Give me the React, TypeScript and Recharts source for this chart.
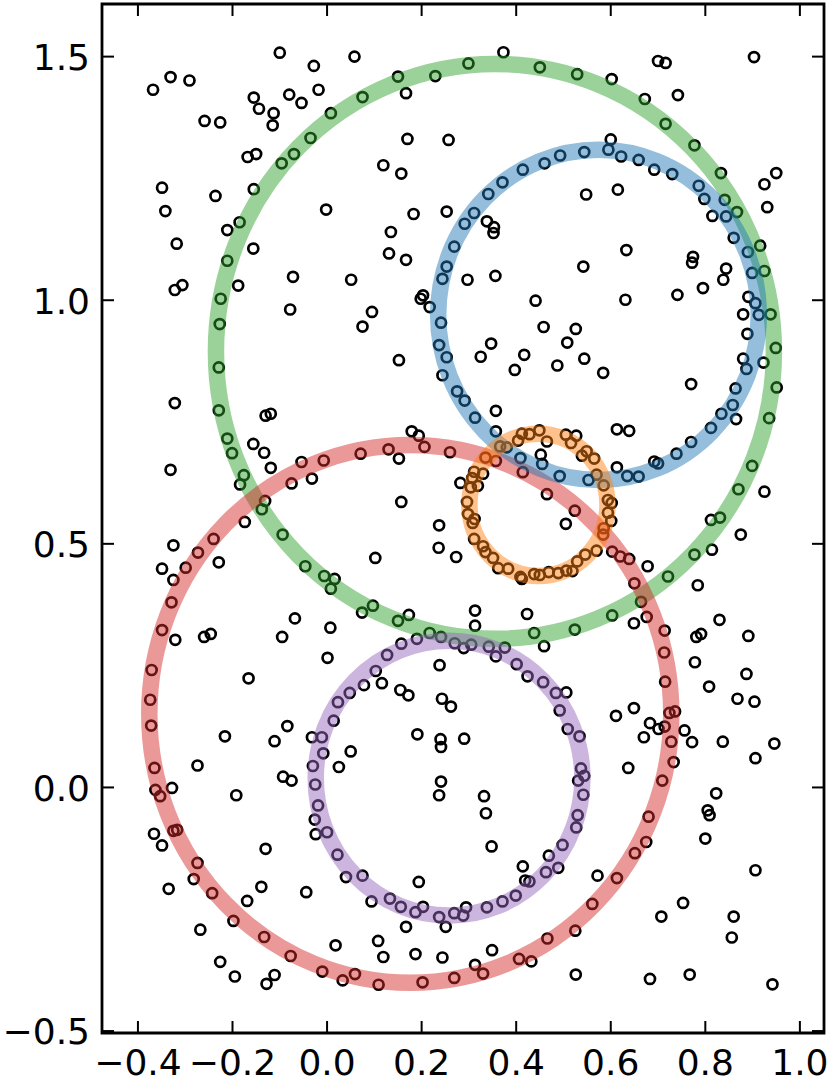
import React from "react";
import { ComposedChart, Scatter, XAxis, YAxis, ReferenceArea } from "recharts";

// ---- axis ranges / ticks ----
const XMIN = -0.476;
const XMAX = 1.051;
const YMIN = -0.504;
const YMAX = 1.608;
const xTicks = [-0.4, -0.2, 0.0, 0.2, 0.4, 0.6, 0.8, 1.0];
const yTicks = [-0.5, 0.0, 0.5, 1.0, 1.5];

// ---- fitted circles (center x, center y, radius) ----
const circleNames = ["green", "red", "blue", "purple", "orange"];
const circleCX = [0.355, 0.176, 0.574, 0.258, 0.447];
const circleCY = [0.895, 0.151, 0.970, 0.019, 0.580];
const circleR = [0.590, 0.552, 0.339, 0.282, 0.146];
const circleColors = ["#2ca02c", "#d62728", "#1f77b4", "#9467bd", "#ff7f0e"];

// ---- sample points ----
const greenPts: [number, number][] = [
  [0.008, 1.384], [-0.035, 1.333], [-0.07, 1.3], [-0.096, 1.281], [-0.155, 1.228], [-0.185, 1.16], [-0.211, 1.081],
  [0.15, 1.459], [0.229, 1.46], [0.299, 1.486], [0.45, 1.478], [0.529, 1.464], [0.075, 1.417],
  [0.672, 1.413], [0.716, 1.362], [0.777, 1.318], [0.833, 1.261], [0.841, 1.206], [0.867, 1.181], [0.916, 1.112],
  [-0.225, 1.003], [-0.227, 0.951], [-0.229, 0.862], [-0.229, 0.774], [-0.211, 0.716], [-0.201, 0.686], [-0.176, 0.641], [-0.184, 0.622], [-0.138, 0.571], [-0.094, 0.519],
  [0.925, 1.06], [0.938, 0.971], [0.949, 0.902], [0.951, 0.821], [0.935, 0.758], [0.899, 0.66], [0.87, 0.612], [0.831, 0.554],
  [-0.046, 0.454], [-0.006, 0.434], [0.008, 0.408],
  [0.097, 0.373], [0.074, 0.359], [0.15, 0.342], [0.438, 0.317], [0.524, 0.324], [0.217, 0.317],
  [0.777, 0.478], [0.721, 0.433], [0.603, 0.353],
];
const bluePts: [number, number][] = [
  [0.544, 1.304], [0.493, 1.297], [0.46, 1.281], [0.414, 1.268], [0.371, 1.242], [0.341, 1.218], [0.311, 1.179], [0.291, 1.157], [0.269, 1.11], [0.253, 1.069],
  [0.595, 1.309], [0.622, 1.295], [0.659, 1.288], [0.73, 1.259], [0.786, 1.235], [0.798, 1.208], [0.844, 1.172], [0.86, 1.128], [0.89, 1.099],
  [0.244, 1.044], [0.217, 0.986], [0.241, 0.954], [0.237, 0.908], [0.253, 0.883], [0.244, 0.846], [0.275, 0.813], [0.291, 0.794], [0.313, 0.759], [0.357, 0.731],
  [0.409, 0.676], [0.455, 0.664], [0.492, 0.639], [0.553, 0.631],
  [0.899, 1.056], [0.891, 1.007], [0.906, 0.994], [0.913, 0.97], [0.887, 0.859], [0.864, 0.819], [0.858, 0.785], [0.834, 0.767], [0.812, 0.738], [0.77, 0.709], [0.739, 0.685], [0.692, 0.669], [0.7, 0.665], [0.635, 0.639], [0.659, 0.638],
];
const orangePts: [number, number][] = [
  [0.412, 0.726], [0.428, 0.725], [0.449, 0.733], [0.404, 0.712], [0.505, 0.724], [0.527, 0.722], [0.516, 0.707], [0.539, 0.681], [0.549, 0.69], [0.366, 0.7], [0.38, 0.698], [0.335, 0.677],
  [0.311, 0.648], [0.33, 0.644], [0.319, 0.619], [0.304, 0.616], [0.296, 0.586], [0.298, 0.561], [0.308, 0.543],
  [0.565, 0.675], [0.57, 0.642], [0.585, 0.62], [0.594, 0.59], [0.602, 0.584], [0.594, 0.564], [0.601, 0.547],
  [0.311, 0.51], [0.33, 0.495], [0.335, 0.483], [0.351, 0.471], [0.362, 0.45], [0.383, 0.449], [0.409, 0.432], [0.412, 0.428], [0.438, 0.438], [0.45, 0.436], [0.469, 0.442], [0.489, 0.44], [0.506, 0.445], [0.519, 0.444], [0.529, 0.464], [0.546, 0.478],
  [0.584, 0.519], [0.57, 0.486],
];
const redPts: [number, number][] = [
  [-0.054, 0.668], [-0.007, 0.671], [-0.075, 0.624], [-0.131, 0.588],
  [0.206, 0.699], [0.13, 0.694], [0.071, 0.685], [0.26, 0.688], [0.357, 0.67], [0.414, 0.647], [0.524, 0.568], [0.585, 0.532],
  [-0.24, 0.51], [-0.273, 0.482], [-0.299, 0.451], [-0.329, 0.38], [-0.349, 0.323], [-0.371, 0.241], [-0.374, 0.18], [-0.372, 0.127], [-0.365, 0.04], [-0.363, -0.005], [-0.353, -0.018],
  [0.603, 0.484], [0.62, 0.474], [0.639, 0.469], [0.65, 0.419], [0.664, 0.381], [0.676, 0.35], [0.714, 0.322], [0.713, 0.277], [0.715, 0.217], [0.724, 0.153], [0.736, 0.156], [0.714, 0.125], [0.728, 0.094], [0.733, 0.052], [0.709, 0.014],
  [-0.325, -0.089], [-0.317, -0.087], [-0.274, -0.155], [-0.282, -0.188], [-0.243, -0.217], [-0.198, -0.274], [-0.133, -0.307], [-0.077, -0.346], [-0.01, -0.378], [0.033, -0.396],
  [0.33, -0.382], [0.406, -0.352], [0.466, -0.31], [0.059, -0.383], [0.109, -0.405], [0.202, -0.4], [0.269, -0.391],
  [0.68, -0.06], [0.651, -0.135], [0.613, -0.186], [0.561, -0.239],
];
const purplePts: [number, number][] = [
  [0.023, 0.175], [0.014, 0.137], [-0.011, 0.103], [-0.008, 0.07], [-0.03, 0.044], [-0.025, 0.006],
  [0.241, 0.309], [0.19, 0.305], [0.157, 0.295], [0.27, 0.296], [0.305, 0.293], [0.342, 0.289], [0.376, 0.287], [0.357, 0.269], [0.127, 0.272], [0.401, 0.253], [0.103, 0.239], [0.457, 0.216], [0.048, 0.194], [0.484, 0.194], [0.492, 0.158], [0.509, 0.12], [0.534, 0.105], [0.537, 0.039], [0.544, 0.024], [0.531, 0.014], [0.542, -0.015],
  [-0.019, -0.037], [-0.026, -0.066], [0.0, -0.092], [0.022, -0.138],
  [0.53, -0.057], [0.527, -0.082], [0.498, -0.118], [0.469, -0.14], [0.463, -0.174], [0.419, -0.191], [0.04, -0.184], [0.075, -0.181], [0.133, -0.228], [0.156, -0.245], [0.187, -0.256], [0.203, -0.245], [0.237, -0.266], [0.269, -0.258], [0.288, -0.263], [0.294, -0.246], [0.338, -0.246], [0.371, -0.234], [0.399, -0.222],
];
const otherPts: [number, number][] = [
  [-0.1, 1.508], [-0.028, 1.481], [-0.331, 1.458], [-0.291, 1.451], [-0.368, 1.432], [-0.018, 1.432], [-0.155, 1.416], [-0.08, 1.422], [-0.054, 1.405], [-0.144, 1.393], [-0.113, 1.384], [-0.259, 1.368], [-0.226, 1.365], [-0.115, 1.359], [-0.15, 1.3], [-0.168, 1.294], [-0.349, 1.231], [-0.236, 1.214], [-0.342, 1.183], [-0.002, 1.186], [-0.211, 1.144], [-0.318, 1.116], [-0.156, 1.106],
  [0.058, 1.5], [0.373, 1.509], [0.167, 1.425], [0.17, 1.331], [0.257, 1.329], [0.119, 1.277], [0.157, 1.26], [0.548, 1.217], [0.183, 1.177], [0.253, 1.182], [0.338, 1.162], [0.353, 1.15], [0.352, 1.138], [0.135, 1.14], [0.131, 1.096], [0.167, 1.083], [0.542, 1.069],
  [0.7, 1.491], [0.716, 1.487], [0.903, 1.499], [0.602, 1.454], [0.742, 1.421], [0.6, 1.33], [0.692, 1.268], [0.615, 1.227], [0.95, 1.261], [0.925, 1.238], [0.815, 1.173], [0.931, 1.191], [0.633, 1.103], [0.774, 1.089], [0.772, 1.077], [0.844, 1.065],
  [-0.322, 1.021], [-0.306, 1.031], [-0.188, 1.03], [-0.072, 1.048], [-0.078, 0.981], [-0.322, 0.789], [-0.13, 0.763], [-0.119, 0.767], [-0.156, 0.705], [-0.133, 0.687], [-0.331, 0.652], [-0.119, 0.656], [-0.032, 0.634], [-0.174, 0.545],
  [0.051, 1.042], [0.297, 1.042], [0.356, 1.05], [0.095, 0.976], [0.075, 0.946], [0.198, 1.003], [0.203, 1.01], [0.441, 0.999], [0.458, 0.945], [0.526, 0.941], [0.508, 0.913], [0.347, 0.911], [0.325, 0.884], [0.417, 0.888], [0.152, 0.877], [0.397, 0.857], [0.487, 0.866], [0.544, 0.88], [0.357, 0.773], [0.179, 0.731], [0.194, 0.722], [0.152, 0.675], [0.465, 0.71], [0.452, 0.683], [0.307, 0.635], [0.282, 0.625], [0.465, 0.602], [0.312, 0.551], [0.505, 0.541], [0.157, 0.586], [0.237, 0.538],
  [0.838, 1.042], [0.631, 1.001], [0.741, 1.011], [0.795, 1.025], [0.88, 0.971], [0.889, 0.931], [0.584, 0.851], [0.88, 0.88], [0.923, 0.872], [0.77, 0.828], [0.865, 0.756], [0.613, 0.735], [0.639, 0.732], [0.613, 0.657], [0.925, 0.607], [0.812, 0.549],
  [-0.325, 0.497], [-0.229, 0.462], [-0.349, 0.449], [-0.325, 0.426], [0.016, 0.428], [-0.068, 0.347], [0.007, 0.328], [-0.321, 0.303], [-0.26, 0.309], [-0.246, 0.315], [-0.095, 0.309], [0.001, 0.266], [-0.166, 0.224], [-0.084, 0.126], [-0.216, 0.105], [-0.111, 0.095], [-0.032, 0.103], [-0.274, 0.045], [0.025, 0.042], [-0.093, 0.022], [-0.075, 0.014], [-0.328, -0.001], [-0.192, -0.016],
  [0.236, 0.492], [0.102, 0.471], [0.273, 0.473], [0.173, 0.354], [0.313, 0.363], [0.313, 0.332], [0.423, 0.356], [0.459, 0.29], [0.289, 0.286], [0.238, 0.251], [0.424, 0.228], [0.116, 0.214], [0.078, 0.21], [0.155, 0.2], [0.172, 0.189], [0.506, 0.195], [0.243, 0.182], [0.262, 0.166], [0.191, 0.109], [0.24, 0.099], [0.241, 0.083], [0.29, 0.1], [0.05, 0.074], [0.241, 0.012], [0.237, -0.016], [0.332, -0.018],
  [0.875, 0.519], [0.678, 0.454], [0.814, 0.488], [0.784, 0.415], [0.649, 0.337], [0.83, 0.344], [0.781, 0.309], [0.791, 0.315], [0.891, 0.311], [0.778, 0.257], [0.887, 0.233], [0.808, 0.207], [0.868, 0.182], [0.904, 0.176], [0.649, 0.163], [0.611, 0.147], [0.683, 0.132], [0.701, 0.12], [0.756, 0.117], [0.67, 0.103], [0.772, 0.093], [0.837, 0.094], [0.946, 0.09], [0.906, 0.06], [0.637, 0.04], [0.823, -0.012],
  [-0.366, -0.095], [-0.349, -0.119], [-0.13, -0.126], [-0.335, -0.208], [-0.139, -0.204], [-0.169, -0.233], [-0.044, -0.215], [-0.268, -0.292], [0.018, -0.324], [-0.226, -0.358], [-0.195, -0.388], [-0.128, -0.403], [-0.111, -0.385], [-0.024, -0.096],
  [0.336, -0.053], [0.348, -0.121], [0.414, -0.162], [0.489, -0.165], [0.428, -0.193], [0.194, -0.194], [0.094, -0.234], [0.251, -0.286], [0.167, -0.286], [0.108, -0.315], [0.119, -0.348], [0.187, -0.342], [0.244, -0.349], [0.349, -0.334], [0.313, -0.364], [0.432, -0.357], [0.525, -0.294], [0.526, -0.384],
  [0.805, -0.047], [0.809, -0.057], [0.675, -0.112], [0.8, -0.105], [0.572, -0.181], [0.906, -0.17], [0.753, -0.237], [0.707, -0.265], [0.86, -0.265], [0.856, -0.308], [0.683, -0.393], [0.767, -0.384], [0.942, -0.404],
];

// ---- layout ----
const W = 830;
const H = 1079;
const MARGIN = { top: 4, right: 6, left: 0, bottom: 0 };
const YAXIS_W = 102;
const XAXIS_H = 46;
const PLOT_LEFT = MARGIN.left + YAXIS_W;
const PLOT_RIGHT = W - MARGIN.right;
const PLOT_TOP = MARGIN.top;
const PLOT_BOTTOM = H - MARGIN.bottom - XAXIS_H;
const PX_PER_X = (PLOT_RIGHT - PLOT_LEFT) / (XMAX - XMIN);
const PX_PER_Y = (PLOT_BOTTOM - PLOT_TOP) / (YMAX - YMIN);
const TICK_LEN = 12;
const FONT = "DejaVu Sans";

const fmt = (v: number) => (v < 0 ? "\u2212" + Math.abs(v).toFixed(1) : v.toFixed(1));

const allPts = [...otherPts, ...greenPts, ...bluePts, ...orangePts, ...redPts, ...purplePts].map(([x, y]) => ({ x, y }));

const XTick = (props: any) => {
  const { x, y, payload } = props;
  return (
    <g>
      <line x1={x} y1={y} x2={x} y2={y - TICK_LEN} stroke="#000" strokeWidth={2} />
      <line x1={x} y1={PLOT_TOP} x2={x} y2={PLOT_TOP + TICK_LEN} stroke="#000" strokeWidth={2} />
      <text x={x} y={y + 42} textAnchor="middle" fontFamily={FONT} fontSize={36} fill="#000">
        {fmt(payload.value)}
      </text>
    </g>
  );
};

const YTick = (props: any) => {
  const { x, y, payload } = props;
  return (
    <g>
      <line x1={x} y1={y} x2={x + TICK_LEN} y2={y} stroke="#000" strokeWidth={2} />
      <line x1={PLOT_RIGHT} y1={y} x2={PLOT_RIGHT - TICK_LEN} y2={y} stroke="#000" strokeWidth={2} />
      <text x={x - 12} y={y + 13.3} textAnchor="end" fontFamily={FONT} fontSize={36} fill="#000">
        {fmt(payload.value)}
      </text>
    </g>
  );
};

const PointShape = (props: any) => {
  const { cx, cy } = props;
  if (cx == null || cy == null) return null;
  return <circle cx={cx} cy={cy} r={5} fill="none" stroke="#000" strokeWidth={2.7} />;
};

const makeRing = (color: string) => (props: any) => {
  const { cx, cy, payload } = props;
  if (cx == null || cy == null) return null;
  return (
    <ellipse
      cx={cx}
      cy={cy}
      rx={payload.r * PX_PER_X}
      ry={payload.r * PX_PER_Y}
      fill="none"
      stroke={color}
      strokeOpacity={0.48}
      strokeWidth={16.5}
    />
  );
};

export default function App() {
  return (
    <div style={{ position: "absolute", left: 0, top: 0, width: W, height: H, background: "#fff" }}>
      <ComposedChart width={W} height={H} margin={MARGIN}>
        <XAxis
          type="number"
          dataKey="x"
          domain={[XMIN, XMAX]}
          ticks={xTicks}
          interval={0}
          allowDataOverflow
          height={XAXIS_H}
          axisLine={false}
          tickLine={false}
          tickSize={0}
          tickMargin={0}
          tick={<XTick />}
        />
        <YAxis
          type="number"
          dataKey="y"
          domain={[YMIN, YMAX]}
          ticks={yTicks}
          interval={0}
          allowDataOverflow
          width={YAXIS_W}
          axisLine={false}
          tickLine={false}
          tickSize={0}
          tickMargin={0}
          tick={<YTick />}
        />
        <Scatter data={allPts} dataKey="y" shape={<PointShape />} isAnimationActive={false} />
        {circleNames.map((name, i) => (
          <Scatter
            key={name}
            name={name}
            data={[{ x: circleCX[i], y: circleCY[i], r: circleR[i] }]}
            dataKey="y"
            shape={makeRing(circleColors[i])}
            isAnimationActive={false}
          />
        ))}
        <ReferenceArea
          x1={XMIN}
          x2={XMAX}
          y1={YMIN}
          y2={YMAX}
          fill="none"
          fillOpacity={0}
          stroke="#000"
          strokeWidth={2.8}
          ifOverflow="visible"
        />
      </ComposedChart>
    </div>
  );
}
